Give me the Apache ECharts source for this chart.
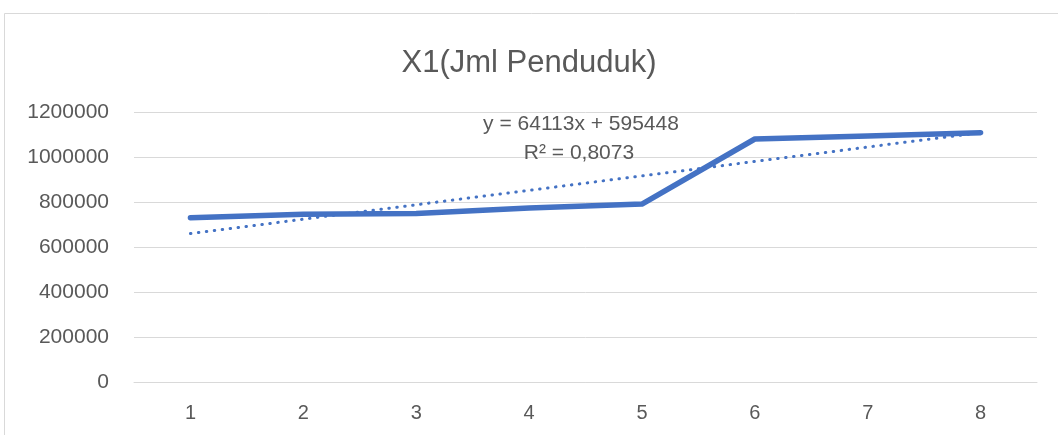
<!DOCTYPE html>
<html>
<head>
<meta charset="utf-8">
<script src="https://cdn.jsdelivr.net/npm/echarts@6/dist/echarts.min.js"></script>
<style>
  html, body { margin: 0; padding: 0; background: #fff; }
  #chart { width: 1058px; height: 435px; }
</style>
</head>
<body>
<div id="chart"></div>
<script>
// data
const categories = ['1', '2', '3', '4', '5', '6', '7', '8'];
const penduduk = [730000, 746000, 749000, 773000, 791000, 1080000, 1093000, 1108000];
const yTicks = [0, 200000, 400000, 600000, 800000, 1000000, 1200000];
// trendline coefficients as printed in the chart
const trendSlope = 64113;
const trendIntercept = 595448;
const trendLabel = 'y = 64113x + 595448';
const r2Label = 'R\u00b2 = 0,8073';

const trend = categories.map((c) => trendSlope * Number(c) + trendIntercept);

const txt = '#595959';
const font = '"Liberation Sans", "DejaVu Sans", sans-serif';

const option = {
  backgroundColor: '#fff',
  animation: false,
  title: {
    text: 'X1(Jml Penduduk)',
    left: 'center',
    top: 43,
    textStyle: { color: txt, fontSize: 31, fontWeight: 'normal', fontFamily: font }
  },
  grid: { left: 134, right: 21, top: 112, bottom: 53 },
  xAxis: {
    type: 'category',
    data: categories,
    boundaryGap: true,
    axisLine: { lineStyle: { color: '#d9d9d9', width: 1 } },
    axisTick: { show: false },
    axisLabel: { color: txt, fontSize: 20, fontFamily: font, margin: 21 }
  },
  yAxis: {
    type: 'value',
    min: yTicks[0],
    max: yTicks[yTicks.length - 1],
    interval: yTicks[1] - yTicks[0],
    axisLine: { show: false },
    axisTick: { show: false },
    splitLine: { lineStyle: { color: '#d9d9d9', width: 1 } },
    axisLabel: { color: txt, fontSize: 21, fontFamily: font, margin: 25, formatter: (v) => String(v) }
  },
  series: [
    {
      name: 'X1',
      type: 'line',
      data: penduduk,
      symbol: 'none',
      lineStyle: { color: '#4472C4', width: 5.5, cap: 'round', join: 'round' },
      z: 3
    },
    {
      name: 'Trend',
      type: 'line',
      data: trend,
      symbol: 'none',
      lineStyle: { color: '#4472C4', width: 3, type: [0.5, 7.5], cap: 'round' },
      z: 2
    }
  ],
  graphic: [
    {
      type: 'rect',
      shape: { x: 4.5, y: 13.5, width: 1100, height: 500 },
      style: { fill: 'none', stroke: '#d9d9d9', lineWidth: 1 },
      silent: true
    },
    {
      type: 'text',
      x: 581, y: 124,
      style: { text: trendLabel, fill: txt, fontSize: 21, fontFamily: font, align: 'center', verticalAlign: 'middle' },
      z: 10
    },
    {
      type: 'text',
      x: 579, y: 153,
      style: { text: r2Label, fill: txt, fontSize: 21, fontFamily: font, align: 'center', verticalAlign: 'middle' },
      z: 10
    }
  ]
};

const chart = echarts.init(document.getElementById('chart'));
chart.setOption(option);
</script>
</body>
</html>
